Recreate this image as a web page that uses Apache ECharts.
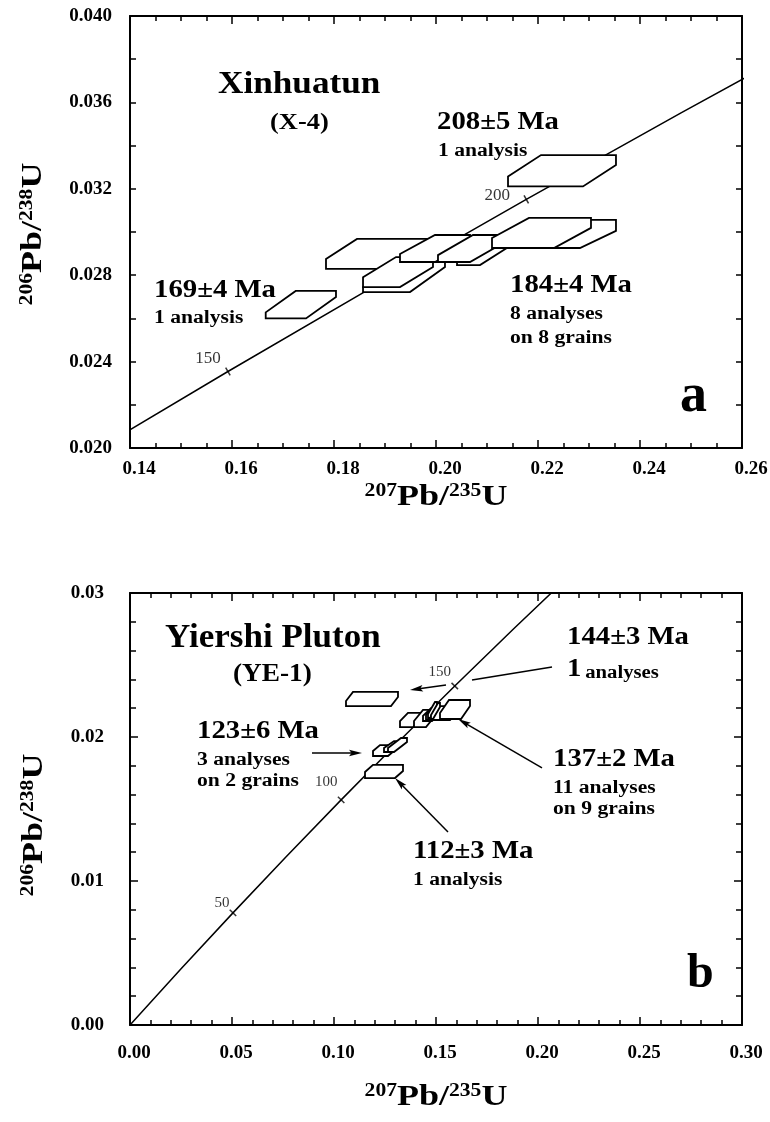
<!DOCTYPE html>
<html><head><meta charset="utf-8">
<script src="https://cdn.jsdelivr.net/npm/echarts@6/dist/echarts.min.js"></script>
<style>html,body{margin:0;padding:0;background:#fff}#c{width:770px;height:1122px}</style>
</head><body><div id="c"></div>
<script>
// ---------------- data ----------------
// Concordia curve (age in Ma, 207Pb/235U, 206Pb/238U)
const concordiaAge = [0, 25, 50, 75, 100, 125, 150, 175, 200, 225, 250, 275, 300];
const concordia207 = [0, 0.024927, 0.050475, 0.076660, 0.103498, 0.131008, 0.159200, 0.188093, 0.217703, 0.248046, 0.279150, 0.311032, 0.343716];
const concordia206 = [0, 0.003886, 0.007786, 0.011702, 0.015634, 0.019580, 0.023542, 0.027519, 0.031511, 0.035519, 0.039543, 0.043583, 0.047638];
const ageMarksA = [150, 200];
const ageMarksB = [50, 100, 150];

// Error boxes: [x min, x max, y min, y max, slant dx, side dy]
const boxesA169 = [[0.16661, 0.18039, 0.02600, 0.02727, 0.00588, 0.00028]];
const boxesA208 = [[0.21412, 0.23529, 0.03211, 0.03356, 0.00647, 0.00046]];
const boxesA184 = [
  [0.17843, 0.20020, 0.02829, 0.02968, 0.00608, 0.00046],
  [0.18569, 0.20176, 0.02722, 0.02861, 0.00686, 0.00023],
  [0.18569, 0.19941, 0.02745, 0.02884, 0.00647, 0.00046],
  [0.19294, 0.20667, 0.02861, 0.02986, 0.00686, 0.00037],
  [0.20412, 0.21451, 0.02847, 0.02963, 0.00588, 0.00028],
  [0.20039, 0.21353, 0.02861, 0.02986, 0.00686, 0.00032],
  [0.21255, 0.23529, 0.02926, 0.03056, 0.00706, 0.00051],
  [0.21098, 0.23039, 0.02926, 0.03065, 0.00725, 0.00046]
];
const boxesB144 = [[0.10588, 0.13137, 0.02215, 0.02313, 0.00343, 0.00035]];
const boxesB112 = [[0.11520, 0.13382, 0.01715, 0.01806, 0.00392, 0.00042]];
const boxesB123 = [
  [0.11912, 0.12990, 0.01868, 0.01944, 0.00343, 0.00035],
  [0.12451, 0.13284, 0.01896, 0.01972, 0.00490, 0.00028],
  [0.12647, 0.13578, 0.01896, 0.01993, 0.00637, 0.00028]
];
const boxesB137 = [
  [0.13235, 0.14265, 0.02069, 0.02167, 0.00392, 0.00042],
  [0.13922, 0.14951, 0.02069, 0.02188, 0.00441, 0.00042],
  [0.14363, 0.15196, 0.02111, 0.02201, 0.00392, 0.00035],
  [0.14510, 0.16078, 0.02118, 0.02215, 0.00392, 0.00035],
  [0.14608, 0.15049, 0.02132, 0.02243, 0.00343, 0.00028],
  [0.14755, 0.15196, 0.02125, 0.02236, 0.00343, 0.00028],
  [0.15196, 0.16667, 0.02125, 0.02257, 0.00441, 0.00042]
];
// Annotation arrows (panel b): [x1, y1, x2, y2, hasHead]
const arrowsB = [
  [0.08922, 0.01889, 0.11373, 0.01889, 1],
  [0.20686, 0.02486, 0.16765, 0.02396, 0],
  [0.15490, 0.02361, 0.13725, 0.02326, 1],
  [0.20196, 0.01785, 0.16078, 0.02125, 1],
  [0.15588, 0.01340, 0.12990, 0.01715, 1]
];
// Axis ranges [min, max, interval]
const axisAX = [0.14, 0.26, 0.02];
const axisAY = [0.020, 0.040, 0.004];
const axisBX = [0.00, 0.30, 0.05];
const axisBY = [0.00, 0.03, 0.01];

// ---------------- styles ----------------
const SERIF = '"Liberation Serif","Times New Roman",serif';
const markLabelOffsetA = [[-20, -13], [-29, -4]];
const markLabelOffsetB = [[-11, -10], [-15, -18], [-15, -14]];

const chart = echarts.init(document.getElementById('c'), null, {renderer: 'canvas'});

function hexItem(params, api) {
  const xmin = api.value(0), xmax = api.value(1), ymin = api.value(2), ymax = api.value(3);
  const dx = api.value(4), v = api.value(5);
  const pts = [[xmin, ymin], [xmin, ymin + v], [xmin + dx, ymax], [xmax, ymax], [xmax, ymax - v], [xmax - dx, ymin]]
    .map(p => api.coord(p));
  return {type: 'polygon', shape: {points: pts}, style: {fill: '#fff', stroke: '#000', lineWidth: 1.8, lineJoin: 'miter'}};
}
function arrowItem(params, api) {
  const a = api.coord([api.value(0), api.value(1)]);
  const b = api.coord([api.value(2), api.value(3)]);
  const head = api.value(4);
  const dx = b[0] - a[0], dy = b[1] - a[1], L = Math.hypot(dx, dy);
  const ux = dx / L, uy = dy / L, nx = -uy, ny = ux;
  const HL = 13, HW = 3.2;
  const end = head ? [b[0] - ux * HL * 0.7, b[1] - uy * HL * 0.7] : b;
  const children = [{type: 'line', shape: {x1: a[0], y1: a[1], x2: end[0], y2: end[1]}, style: {stroke: '#000', lineWidth: 1.5}}];
  if (head) {
    children.push({type: 'polygon', shape: {points: [
      b,
      [b[0] - ux * HL + nx * HW, b[1] - uy * HL + ny * HW],
      [b[0] - ux * HL * 0.8, b[1] - uy * HL * 0.8],
      [b[0] - ux * HL - nx * HW, b[1] - uy * HL - ny * HW]
    ]}, style: {fill: '#000'}});
  }
  return {type: 'group', children};
}

function hexSeries(data, gi) {
  return {type: 'custom', xAxisIndex: gi * 2, yAxisIndex: gi * 2, renderItem: hexItem, data: data,
    encode: {x: [0, 1], y: [2, 3]}, z: 3, silent: true, clip: true};
}
function concordiaSeries(gi) {
  return {type: 'line', xAxisIndex: gi * 2, yAxisIndex: gi * 2, symbol: 'none', showSymbol: false,
    data: concordiaAge.map((a, i) => [concordia207[i], concordia206[i]]),
    lineStyle: {color: '#000', width: 1.5}, clip: true, z: 2, silent: true};
}
function markSeries(gi, ages, offsets, rot, fs) {
  return {type: 'scatter', xAxisIndex: gi * 2, yAxisIndex: gi * 2, symbol: 'rect', symbolSize: [1.5, 9],
    symbolRotate: rot, itemStyle: {color: '#000'}, z: 4, silent: true,
    data: ages.map((age, i) => {
      const k = concordiaAge.indexOf(age);
      return {value: [concordia207[k], concordia206[k]],
        label: {show: true, formatter: String(age), position: 'inside', offset: offsets[i],
          color: '#000', fontFamily: SERIF, fontSize: fs, fontWeight: 'normal'}};
    })};
}

function xAxes(gi, rng, minorSplit, digits, margin, padLeft) {
  const base = {type: 'value', gridIndex: gi, min: rng[0], max: rng[1], interval: rng[2],
    splitLine: {show: false},
    axisLine: {show: true, onZero: false, lineStyle: {color: '#000', width: 2}},
    axisTick: {show: true, inside: true, length: 8, lineStyle: {color: '#000', width: 1.5}},
    minorTick: {show: true, splitNumber: minorSplit, length: 5, lineStyle: {color: '#000', width: 1.5}},
    minorSplitLine: {show: false}};
  return [
    Object.assign({}, base, {position: 'bottom',
      axisLabel: {show: true, margin: margin, padding: [0, 0, 0, padLeft], color: '#000', fontFamily: SERIF, fontWeight: 'bold', fontSize: 19,
        formatter: v => v.toFixed(digits)}}),
    Object.assign({}, base, {position: 'top', axisLabel: {show: false}})
  ];
}
function yAxes(gi, rng, minorSplit, digits, margin, tl, mtl) {
  const base = {type: 'value', gridIndex: gi, min: rng[0], max: rng[1], interval: rng[2],
    splitLine: {show: false},
    axisLine: {show: true, onZero: false, lineStyle: {color: '#000', width: 2}},
    axisTick: {show: true, inside: true, length: tl, lineStyle: {color: '#000', width: 1.5}},
    minorTick: {show: true, splitNumber: minorSplit, length: mtl, lineStyle: {color: '#000', width: 1.5}},
    minorSplitLine: {show: false}};
  return [
    Object.assign({}, base, {position: 'left',
      axisLabel: {show: true, margin: margin, color: '#000', fontFamily: SERIF, fontWeight: 'bold', fontSize: 19,
        formatter: v => v.toFixed(digits)}}),
    Object.assign({}, base, {position: 'right', axisLabel: {show: false}})
  ];
}

function T(x, y, text, size, sx, weight) {
  return {type: 'text', x: x, y: y, scaleX: sx || 1, silent: true, z: 100,
    style: {text: text, fontSize: size, fontWeight: weight || 'bold', fontFamily: SERIF, fill: '#000',
      align: 'left', verticalAlign: 'middle'}};
}
function axisName(x, y, rot) {
  return {type: 'text', x: x, y: y, rotation: rot, scaleX: 1.2, silent: true, z: 100,
    style: {text: '', rich: {}, fill: '#000', align: 'center', verticalAlign: 'middle',
      fontFamily: SERIF, fontWeight: 'bold', fontSize: 30}};
}
function richName(x, y, rot, sup1, main1, sup2, main2) {
  const el = axisName(x, y, rot);
  el.style.text = '{s|' + sup1 + '}{b|' + main1 + '}{s|' + sup2 + '}{b|' + main2 + '}';
  el.style.rich = {
    s: {fontSize: 18, fontWeight: 'bold', fontFamily: SERIF, verticalAlign: 'top', fill: '#000'},
    b: {fontSize: 30, fontWeight: 'bold', fontFamily: SERIF, verticalAlign: 'middle', fill: '#000'}
  };
  return el;
}
function oneAnalyses(x, y) {
  return {type: 'text', x: x, y: y, scaleX: 1.15, silent: true, z: 100,
    style: {text: '{a|1} {c|analyses}', fill: '#000', align: 'left', verticalAlign: 'middle',
      rich: {a: {fontSize: 25, fontWeight: 'bold', fontFamily: SERIF, verticalAlign: 'bottom'},
             c: {fontSize: 18, fontWeight: 'bold', fontFamily: SERIF, verticalAlign: 'bottom'}}}};
}

const xa = xAxes(0, axisAX, 4, 2, 12, 18);
const xb = xAxes(1, axisBX, 5, 2, 19, 8);
const ya = yAxes(0, axisAY, 2, 3, 18, 6, 6);
const yb = yAxes(1, axisBY, 5, 2, 26, 8, 6);

const option = {
  animation: false,
  backgroundColor: '#fff',
  grid: [
    {left: 130, top: 16, width: 612, height: 432, outerBoundsMode: 'none', containLabel: false},
    {left: 130, top: 593, width: 612, height: 432, outerBoundsMode: 'none', containLabel: false}
  ],
  xAxis: [xa[0], xa[1], xb[0], xb[1]],
  yAxis: [ya[0], ya[1], yb[0], yb[1]],
  series: [
    concordiaSeries(0),
    hexSeries(boxesA169, 0),
    hexSeries(boxesA208, 0),
    hexSeries(boxesA184, 0),
    markSeries(0, ageMarksA, markLabelOffsetA, 30, 17),
    concordiaSeries(1),
    hexSeries(boxesB144, 1),
    hexSeries(boxesB112, 1),
    hexSeries(boxesB123, 1),
    hexSeries(boxesB137, 1),
    markSeries(1, ageMarksB, markLabelOffsetB, 46, 15),
    {type: 'custom', xAxisIndex: 2, yAxisIndex: 2, renderItem: arrowItem, data: arrowsB,
      encode: {x: [0, 2], y: [1, 3]}, z: 5, silent: true}
  ],
  graphic: [
    T(218, 85, 'Xinhuatun', 32, 1.1),
    T(270, 123, '(X-4)', 23, 1.15),
    T(437, 123, '208±5 Ma', 25, 1.15),
    T(438, 151, '1 analysis', 18, 1.2),
    T(154, 291, '169±4 Ma', 25, 1.15),
    T(154, 318, '1 analysis', 18, 1.2),
    T(510, 286, '184±4 Ma', 25, 1.15),
    T(510, 314, '8 analyses', 18, 1.2),
    T(510, 338, 'on 8 grains', 18, 1.2),
    T(680, 397, 'a', 54, 1),
    T(165, 638, 'Yiershi Pluton', 34, 1.03),
    T(233, 674, '(YE-1)', 26, 1.05),
    T(197, 732, '123±6 Ma', 25, 1.15),
    T(197, 760, '3 analyses', 18, 1.2),
    T(197, 781, 'on 2 grains', 18, 1.2),
    T(567, 638, '144±3 Ma', 25, 1.15),
    oneAnalyses(567, 670),
    T(553, 760, '137±2 Ma', 25, 1.15),
    T(553, 788, '11 analyses', 18, 1.2),
    T(553, 809, 'on 9 grains', 18, 1.2),
    T(413, 852, '112±3 Ma', 25, 1.15),
    T(413, 880, '1 analysis', 18, 1.2),
    T(687, 975, 'b', 48, 1),
    richName(436, 497, 0, '207', 'Pb/', '235', 'U'),
    richName(436, 1097, 0, '207', 'Pb/', '235', 'U'),
    richName(33, 234, Math.PI / 2, '206', 'Pb/', '238', 'U'),
    richName(34, 825, Math.PI / 2, '206', 'Pb/', '238', 'U')
  ]
};
chart.setOption(option);
</script></body></html>
